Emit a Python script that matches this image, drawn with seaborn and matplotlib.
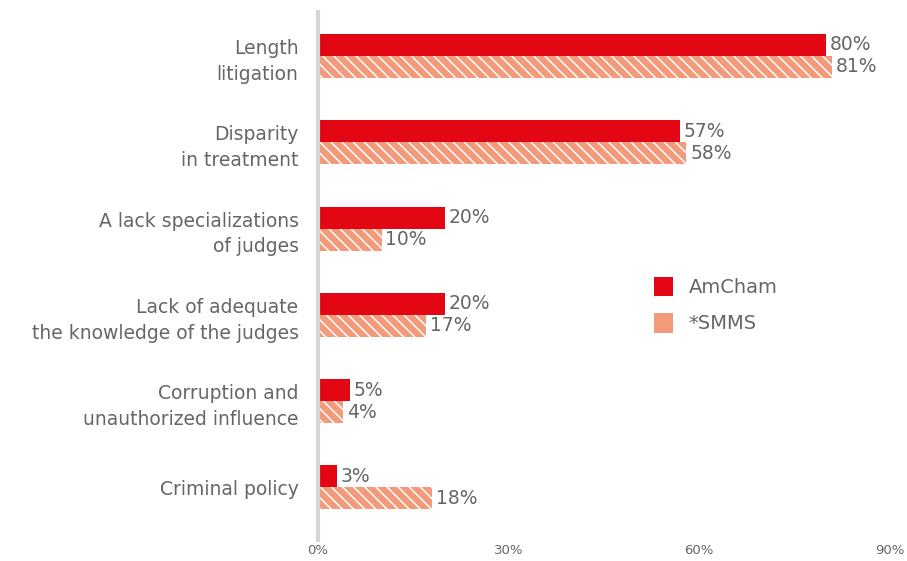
import matplotlib
matplotlib.use("Agg")
import matplotlib.pyplot as plt
from matplotlib.patches import Patch
import seaborn as sns
import pandas as pd

categories = [
    "Length\nlitigation",
    "Disparity\nin treatment",
    "A lack specializations\nof judges",
    "Lack of adequate\nthe knowledge of the judges",
    "Corruption and\nunauthorized influence",
    "Criminal policy",
]
amcham = [80, 57, 20, 20, 5, 3]
smms = [81, 58, 10, 17, 4, 18]
series = ["AmCham", "*SMMS"]
xticks = [0, 30, 60, 90]
xtick_labels = ["0%", "30%", "60%", "90%"]

RED = "#E30613"
SALMON = "#F39A7B"
TEXT = "#666666"

df = pd.DataFrame({
    "category": categories * 2,
    "series": [series[0]] * len(categories) + [series[1]] * len(categories),
    "value": amcham + smms,
})

sns.set_theme(style="white")
plt.rcParams["font.family"] = ["DejaVu Sans"]
plt.rcParams["hatch.color"] = "white"
plt.rcParams["hatch.linewidth"] = 1.1

fig = plt.figure(figsize=(9.07, 5.61), dpi=100)
ax = fig.add_axes([318 / 907, 21 / 561, (889.5 - 318) / 907, (540 - 12) / 561])

sns.barplot(data=df, y="category", x="value", hue="series", order=categories,
            hue_order=series, palette=[RED, SALMON], orient="h", width=0.51,
            saturation=1, legend=False, ax=ax, linewidth=0)

# hatch the SMMS bars
for bar in ax.containers[1]:
    bar.set_hatch("\\\\\\")
    bar.set_edgecolor("white")
    bar.set_linewidth(0)

# value labels
for cont in ax.containers:
    for bar in cont:
        w = bar.get_width()
        ax.text(w + 0.6, bar.get_y() + bar.get_height() / 2, f"{w:.0f}%",
                va="center", ha="left", fontsize=13.5, color=TEXT)

ax.set_xlim(0, 90)
ax.set_ylim(5.61, -0.51)
ax.set_xlabel("")
ax.set_ylabel("")
ax.set_xticks(xticks)
ax.set_xticklabels(xtick_labels, fontsize=9.5, color=TEXT)
ax.tick_params(axis="x", length=0, pad=3)
ax.tick_params(axis="y", length=0, pad=14)
for lab in ax.get_yticklabels():
    lab.set_fontsize(13.5)
    lab.set_color(TEXT)
    lab.set_linespacing(1.45)
    lab.set_horizontalalignment("right")

for s in ["top", "right", "bottom"]:
    ax.spines[s].set_visible(False)
ax.spines["left"].set_color("#D6D6D6")
ax.spines["left"].set_linewidth(3)

handles = [Patch(facecolor=RED, edgecolor="none", label=series[0]),
           Patch(facecolor=SALMON, edgecolor="none", label=series[1])]
fig.legend(handles=handles, loc="upper left", bbox_to_anchor=(636 / 907, 1 - 259 / 561),
           frameon=False, fontsize=14, handlelength=1.0, handleheight=1.2,
           handletextpad=0.8, labelspacing=0.8, labelcolor=TEXT)

fig.savefig("out.png", dpi=100)
